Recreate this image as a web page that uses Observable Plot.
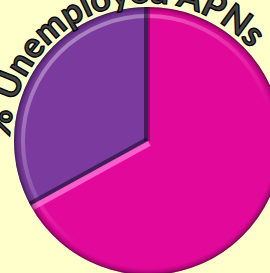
<!DOCTYPE html>
<html>
<head>
<meta charset="utf-8">
<script src="https://cdn.jsdelivr.net/npm/d3@7"></script>
<script src="https://cdn.jsdelivr.net/npm/@observablehq/plot@0.6"></script>
<style>
  html, body { margin: 0; padding: 0; background: #FFFFCC; overflow: hidden; }
</style>
</head>
<body>
<div id="chart"></div>
<script>
const categories = ["Employed", "Unemployed"];
const values = [67, 33];
const colors = ["#E1089A", "#7A3A9E"];
const title = "% Unemployed APNs";

const W = 270, H = 273;
const data = categories.map((c, i) => ({category: c, value: values[i]}));
const color = Plot.scale({color: {type: "ordinal", domain: categories, range: colors}});

function pieMark() {
  const cx = 148, cy = 141, r = 134;
  const g = d3.create("svg:g");
  const defs = g.append("defs");
  const rim = defs.append("radialGradient").attr("id", "rim")
    .attr("gradientUnits", "userSpaceOnUse").attr("cx", cx).attr("cy", cy).attr("r", r);
  rim.append("stop").attr("offset", "0.95").attr("stop-color", "#000").attr("stop-opacity", 0);
  rim.append("stop").attr("offset", "0.98").attr("stop-color", "#000").attr("stop-opacity", 0.2);
  rim.append("stop").attr("offset", "1").attr("stop-color", "#000").attr("stop-opacity", 0.5);

  const hl = defs.append("linearGradient").attr("id", "hl")
    .attr("gradientUnits", "userSpaceOnUse")
    .attr("x1", cx - 90).attr("y1", cy - 110).attr("x2", cx + 20).attr("y2", cy + 40);
  hl.append("stop").attr("offset", "0").attr("stop-color", "#fff").attr("stop-opacity", 0.4);
  hl.append("stop").attr("offset", "1").attr("stop-color", "#fff").attr("stop-opacity", 0);

  const arcs = d3.pie().sort(null).value(d => d.value)(data);
  const arc = d3.arc().innerRadius(0).outerRadius(r);
  const pt = (a, rr) => [cx + rr * Math.sin(a), cy - rr * Math.cos(a)];

  arcs.forEach((a, i) => {
    defs.append("clipPath").attr("id", "clip" + i)
      .append("path").attr("d", arc(a)).attr("transform", `translate(${cx},${cy})`);
  });

  const slices = g.append("g").attr("transform", `translate(${cx},${cy})`);
  slices.selectAll("path").data(arcs).join("path")
    .attr("d", arc)
    .attr("fill", d => color.apply(d.data.category));

  // soft highlight band near the rim (top-left)
  g.append("circle").attr("cx", cx).attr("cy", cy).attr("r", r - 9)
    .attr("fill", "none").attr("stroke", "url(#hl)").attr("stroke-width", 4);

  // bevel edges along the radii
  arcs.forEach((a, i) => {
    const cg = g.append("g").attr("clip-path", `url(#clip${i})`);
    [a.startAngle, a.endAngle].forEach((ang, k) => {
      const [x2, y2] = pt(ang, r);
      let stroke, sw, op;
      if (i === 0 && k === 1) { stroke = "#ff6fd6"; sw = 11; op = 0.85; }
      else if (i === 0) { stroke = "#5a0040"; sw = 4; op = 0.5; }
      else { stroke = "#1e0830"; sw = 8; op = 0.6; }
      cg.append("line").attr("x1", cx).attr("y1", cy).attr("x2", x2).attr("y2", y2)
        .attr("stroke", stroke).attr("stroke-width", sw).attr("stroke-opacity", op);
    });
  });

  g.append("circle").attr("cx", cx).attr("cy", cy).attr("r", r).attr("fill", "url(#rim)");

  // curved title, ending just past the upper right
  const tr = 138;
  defs.append("path").attr("id", "titlePath")
    .attr("d", `M ${cx},${cy + tr} A ${tr},${tr} 0 1,1 ${cx},${cy - tr} A ${tr},${tr} 0 1,1 ${cx},${cy + tr}`);
  const circ = 2 * Math.PI * tr;
  const endDeg = 48;
  const offset = ((endDeg + 360 - 180) % 360) / 360 * circ;
  g.append("text")
    .attr("font-family", "Lato, sans-serif")
    .attr("font-weight", "bold")
    .attr("font-size", 35)
    .attr("fill", "#444")
    .attr("stroke", "#000")
    .attr("stroke-width", 1.3)
    .append("textPath")
    .attr("href", "#titlePath")
    .attr("startOffset", offset)
    .attr("text-anchor", "end")
    .text(title);
  return g.node();
}

const chart = Plot.plot({
  width: W,
  height: H,
  margin: 0,
  style: {background: "#FFFFCC", overflow: "hidden"},
  marks: [pieMark]
});
document.getElementById("chart").append(chart);
</script>
</body>
</html>
